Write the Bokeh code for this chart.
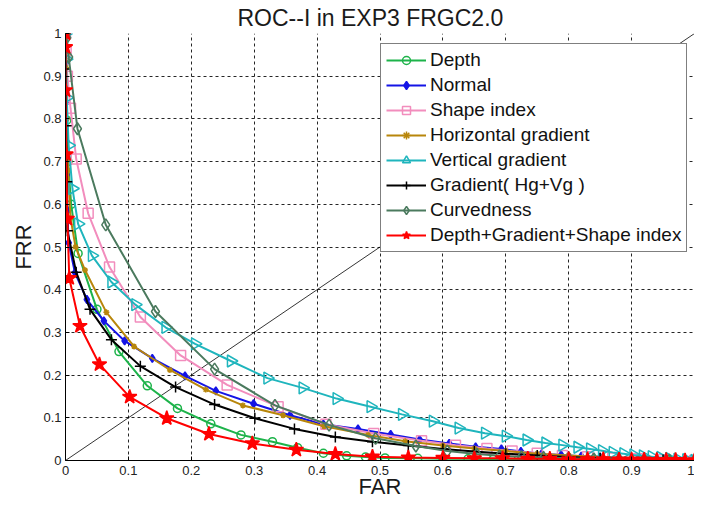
from bokeh.plotting import figure
from bokeh.models import Legend, LegendItem, Range1d, FixedTicker
from bokeh.embed import file_html
from bokeh.resources import INLINE

# ---------------- data ----------------
tick_vals = [0.0, 0.1, 0.2, 0.3, 0.4, 0.5, 0.6, 0.7, 0.8, 0.9, 1.0]
tick_labels = ["0", "0.1", "0.2", "0.3", "0.4", "0.5", "0.6", "0.7", "0.8", "0.9", "1"]

depth_far = [0.0, 0.001, 0.002, 0.004, 0.009, 0.02, 0.05, 0.085, 0.13, 0.178, 0.231, 0.279, 0.329, 0.369, 0.41,
             0.447, 0.477, 0.508, 0.56, 0.6, 0.64, 0.68, 0.72, 0.76, 0.8, 0.84, 0.88, 0.92, 0.96, 1.0]
depth_frr = [1.0, 0.95, 0.797, 0.70, 0.60, 0.485, 0.354, 0.255, 0.175, 0.122, 0.086, 0.06, 0.044, 0.03, 0.017,
             0.011, 0.008, 0.006, 0.005, 0.004, 0.004, 0.003, 0.003, 0.002, 0.002, 0.002, 0.001, 0.001, 0.0, 0.0]

normal_far = [0.0, 0.0, 0.0005, 0.001, 0.002, 0.003, 0.005, 0.015, 0.034, 0.061, 0.094, 0.138, 0.19, 0.239, 0.299,
              0.357, 0.41, 0.465, 0.517, 0.563, 0.61, 0.652, 0.693, 0.724, 0.757, 0.788, 0.82, 0.85, 0.88, 0.91,
              0.94, 0.97, 1.0]
normal_frr = [1.0, 0.93, 0.837, 0.749, 0.669, 0.584, 0.51, 0.44, 0.377, 0.327, 0.28, 0.239, 0.198, 0.163, 0.133,
              0.106, 0.085, 0.074, 0.061, 0.049, 0.040, 0.032, 0.027, 0.021, 0.016, 0.013, 0.010, 0.008, 0.006, 0.004,
              0.003, 0.001, 0.0]

shape_far = [0.0, 0.001, 0.003, 0.008, 0.017, 0.036, 0.07, 0.119, 0.183, 0.257, 0.338, 0.414, 0.49, 0.566, 0.62,
             0.67, 0.71, 0.75, 0.79, 0.83, 0.87, 0.91, 0.95, 1.0]
shape_frr = [1.0, 0.96, 0.9, 0.825, 0.706, 0.579, 0.453, 0.336, 0.246, 0.177, 0.126, 0.085, 0.063, 0.046, 0.036,
             0.028, 0.022, 0.017, 0.012, 0.009, 0.006, 0.004, 0.002, 0.0]

hgrad_far = [0.0, 0.001, 0.002, 0.004, 0.008, 0.016, 0.031, 0.065, 0.109, 0.166, 0.223, 0.282, 0.346, 0.411, 0.481,
             0.54, 0.6, 0.65, 0.7, 0.75, 0.8, 0.85, 0.9, 0.95, 1.0]
hgrad_frr = [1.0, 0.92, 0.8, 0.68, 0.568, 0.50, 0.446, 0.347, 0.267, 0.212, 0.166, 0.129, 0.106, 0.08, 0.06,
             0.045, 0.035, 0.028, 0.022, 0.016, 0.012, 0.008, 0.005, 0.002, 0.0]

vgrad_far = [0.0, 0.001, 0.002, 0.005, 0.011, 0.02, 0.042, 0.073, 0.111, 0.159, 0.206, 0.263, 0.321, 0.377, 0.431,
             0.485, 0.535, 0.584, 0.625, 0.667, 0.70, 0.733, 0.763, 0.79, 0.814, 0.834, 0.853, 0.87, 0.887, 0.903,
             0.918, 0.932, 0.946, 0.96, 0.973, 0.987, 1.0]
vgrad_frr = [1.0, 0.94, 0.85, 0.738, 0.637, 0.554, 0.48, 0.418, 0.365, 0.312, 0.273, 0.233, 0.193, 0.17, 0.145,
             0.126, 0.108, 0.092, 0.076, 0.064, 0.057, 0.048, 0.041, 0.036, 0.031, 0.027, 0.023, 0.019, 0.016, 0.013,
             0.011, 0.009, 0.007, 0.005, 0.003, 0.002, 0.0]

grad_far = [0.0, 0.0, 0.001, 0.002, 0.003, 0.017, 0.039, 0.073, 0.119, 0.175, 0.237, 0.301, 0.364, 0.429, 0.488,
            0.545, 0.6, 0.65, 0.7, 0.75, 0.8, 0.85, 0.9, 0.95, 1.0]
grad_frr = [1.0, 0.917, 0.784, 0.653, 0.538, 0.441, 0.354, 0.283, 0.221, 0.172, 0.131, 0.099, 0.074, 0.055, 0.044,
            0.035, 0.027, 0.021, 0.016, 0.012, 0.008, 0.005, 0.003, 0.001, 0.0]

curv_far = [0.0, 0.002, 0.005, 0.019, 0.064, 0.143, 0.237, 0.333, 0.419, 0.493, 0.557, 0.607, 0.654, 0.69, 0.725,
            0.76, 0.8, 0.84, 0.88, 0.92, 0.96, 1.0]
curv_frr = [1.0, 0.99, 0.945, 0.777, 0.552, 0.349, 0.214, 0.129, 0.083, 0.052, 0.034, 0.022, 0.015, 0.011, 0.009,
            0.007, 0.005, 0.004, 0.003, 0.002, 0.001, 0.0]

fused_far = [0.0, 0.0, 0.0, 0.001, 0.003, 0.006, 0.023, 0.054, 0.102, 0.161, 0.228, 0.297, 0.367, 0.429, 0.488,
             0.545, 0.6, 0.65, 0.695, 0.735, 0.77, 0.80, 0.83, 0.855, 0.88, 0.90, 0.92, 0.94, 0.955, 0.97, 0.985, 1.0]
fused_frr = [1.0, 0.968, 0.867, 0.717, 0.566, 0.427, 0.315, 0.225, 0.149, 0.099, 0.062, 0.04, 0.025, 0.015, 0.009,
             0.007, 0.006, 0.005, 0.005, 0.004, 0.004, 0.003, 0.003, 0.003, 0.002, 0.002, 0.002, 0.001, 0.001, 0.001,
             0.0, 0.0]

eer_line = [0.0, 1.0]

series_names = ["Depth", "Normal", "Shape index", "Horizontal gradient", "Vertical gradient",
                "Gradient( Hg+Vg )", "Curvedness", "Depth+Gradient+Shape index"]

# ---------------- figure ----------------
FONT = "Liberation Sans"
p = figure(width=694, height=501, output_backend="svg", toolbar_location=None,
           x_range=Range1d(0, 1.0), y_range=Range1d(0, 1.0),
           min_border_left=65, min_border_right=0, min_border_top=0, min_border_bottom=0)
p.title.text = "ROC--I  in  EXP3  FRGC2.0"
p.title.align = "center"
p.title.text_font = FONT
p.title.text_font_size = "23px"
p.title.text_font_style = "normal"
p.title.text_color = "#1a1a1a"
p.title.standoff = 5
p.outline_line_color = None
p.background_fill_color = "white"

for ax in (p.xaxis[0], p.yaxis[0]):
    ax.ticker = FixedTicker(ticks=tick_vals)
    ax.major_label_overrides = dict(zip(tick_vals, tick_labels))
    ax.major_label_text_font = FONT
    ax.major_label_text_font_size = "13px"
    ax.major_label_text_color = "#222222"
    ax.axis_label_text_font = FONT
    ax.axis_label_text_font_size = "22px"
    ax.axis_label_text_font_style = "normal"
    ax.axis_label_text_color = "#1a1a1a"
    ax.major_tick_in = 4
    ax.major_tick_out = 0
    ax.minor_tick_line_color = None
    ax.axis_line_color = "black"
    ax.major_tick_line_color = "black"
p.xaxis.axis_label = "FAR"
p.yaxis.axis_label = "FRR"
p.xaxis.major_label_standoff = 5
p.xaxis.axis_label_standoff = -4
p.yaxis.major_label_standoff = 4
p.yaxis.axis_label_standoff = 4

for g in (p.xgrid[0], p.ygrid[0]):
    g.ticker = FixedTicker(ticks=tick_vals)
    g.grid_line_color = "black"
    g.grid_line_dash = "3 3"
    g.grid_line_width = 1
    g.grid_line_alpha = 0.85

# diagonal EER reference line
p.line(eer_line, eer_line, line_color="black", line_width=0.8)

styles = [
    (depth_far, depth_frr, "#1db34a", "circle", 8, False),
    (normal_far, normal_frr, "#1414e6", "diamond", 8, True),
    (shape_far, shape_frr, "#f28dbd", "square", 10, False),
    (hgrad_far, hgrad_frr, "#b8860b", "asterisk", 6, False),
    (vgrad_far, vgrad_frr, "#1fb5bd", "triangle", 12, False),
    (grad_far, grad_frr, "#000000", "cross", 11, False),
    (curv_far, curv_frr, "#4b7a5e", "diamond", 12, False),
    (fused_far, fused_frr, "#ff0000", "star", 15, True),
]

items = []
for (xs, ys, col, mk, sz, filled), name in zip(styles, series_names):
    lr = p.line(xs, ys, line_color=col, line_width=2)
    kw = dict(marker=mk, size=sz, line_color=col, line_width=1.5)
    kw["fill_color"] = col if filled else None
    if mk == "triangle":
        kw["angle"] = -1.5708
    sr = p.scatter(xs, ys, **kw)
    items.append(LegendItem(label=name, renderers=[lr, sr]))

legend = Legend(items=items, location=(315, 208))
legend.label_text_font = FONT
legend.label_text_font_size = "19px"
legend.label_text_color = "#111111"
legend.glyph_width = 40
legend.glyph_height = 20
legend.label_height = 20
legend.spacing = 3
legend.padding = 5
legend.margin = 0
legend.label_standoff = 4
legend.border_line_color = "black"
legend.border_line_width = 1
legend.background_fill_color = "white"
legend.background_fill_alpha = 1.0
p.add_layout(legend)

open("out.html", "w").write(file_html(p, INLINE))
